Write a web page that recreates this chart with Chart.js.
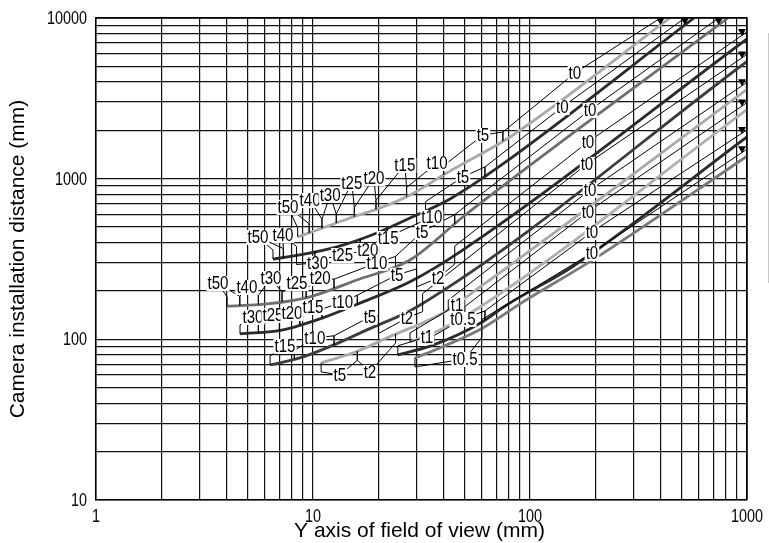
<!DOCTYPE html>
<html>
<head>
<meta charset="utf-8">
<script src="https://cdn.jsdelivr.net/npm/chart.js@4.4.1/dist/chart.umd.min.js"></script>
<style>
html,body{margin:0;padding:0;background:#fff;}
</style>
</head>
<body>
<canvas id="chartContainer" width="769" height="543"></canvas>
<script>
var xTickLabels = ['1', '10', '100', '1000'];
var yTickLabels = ['10', '100', '1000', '10000'];
var xTitle = 'Y axis of field of view (mm)';
var yTitle = 'Camera installation distance (mm)';

// one curve per lens: field of view (mm) and installation distance (mm)
var fov1 = [8.5, 11.4, 14.8, 21, 28, 42.8, 80.9, 441];
var dist1 = [434, 500, 569, 667, 792, 1117, 1817, 10000];
var fov2 = [6.54, 8.71, 12.9, 19.7, 28, 42.8, 72.8, 570];
var dist2 = [316, 335, 376, 459, 569, 748, 1200, 10000];
var fov3 = [4.02, 6.14, 9.69, 15.9, 28, 50, 817];
var dist3 = [161, 166, 184, 234, 312, 590, 10000];
var fov4 = [4.61, 7.27, 11.1, 17.0, 28, 47.6, 1000];
var dist4 = [108, 114.5, 136, 171, 228, 350, 7413];
var fov5 = [6.34, 8.71, 12.4, 17.7, 30.1, 1000];
var dist5 = [69.3, 76.6, 92, 114.5, 159, 5370];
var fov6 = [10.9, 15.9, 22.6, 39.7, 58.9, 1000];
var dist6 = [71.3, 84, 104, 146, 212, 3600];
var fov7 = [28, 38.4, 58.9, 1000];
var dist7 = [96.4, 114.5, 159, 2692];
var fov8 = [24.6, 35.7, 58.9, 78.3, 158, 1000];
var dist8 = [80, 92, 126, 164, 285, 1820];
var fov9 = [29.5, 38.4, 60.7, 92.9, 204, 1000];
var dist9 = [76.6, 88.4, 117.8, 171, 325, 1380];

// extension tube marks: [label, from fov, to fov, label fov, label distance]
var tubes1 = [['t50', 8.5, 9.6, 7.67, 667], ['t40', 9.6, 11, 9.69, 737], ['t30', 11, 12.8, 12.0, 792],
  ['t25', 12.8, 15.5, 15.1, 940], ['t20', 15.5, 19.5, 19.1, 1010], ['t15', 19.5, 27, 26.5, 1217],
  ['t10', 27, 40, 37.3, 1253], ['t5', 40, 75, 60.7, 1871], ['t0', 75, 441, 161, 4545]];
var tubes2 = [['t50', 6.54, 7.3, 5.58, 434], ['t40', 7.3, 8.4, 7.27, 446], ['t30', 8.4, 10.2, 10.5, 299],
  ['t25', 10.2, 12.8, 13.7, 335], ['t20', 12.8, 16.5, 17.9, 360], ['t15', 16.5, 22, 22.2, 427],
  ['t10', 22, 33, 35.3, 578], ['t5', 33, 62, 49.1, 1026], ['t0', 62, 570, 141, 2793]];
var tubes3 = [['t50', 4.02, 4.6, 3.65, 224], ['t40', 4.6, 5.6, 4.96, 212], ['t30', 5.6, 7.2, 6.4, 241],
  ['t25', 7.2, 9.3, 8.44, 224], ['t20', 9.3, 12.5, 10.8, 241], ['t10', 12.5, 24, 19.7, 299],
  ['t5', 24, 45, 31.8, 466], ['t0', 45, 817, 189, 2676]];
var tubes4 = [['t30', 4.61, 5.6, 5.29, 138], ['t25', 5.6, 7, 6.54, 142], ['t20', 7, 8.7, 8.0, 146],
  ['t15', 8.7, 11, 10, 159], ['t10', 11, 16, 13.7, 171], ['t5', 16, 30, 24.4, 252],
  ['t2', 30, 45, 37.7, 241], ['t0', 45, 1000, 185, 1691]];
var tubes5 = [['t15', 6.34, 8.2, 7.43, 91], ['t10', 8.2, 12.5, 10.2, 102], ['t5', 12.5, 20, 18.3, 138],
  ['t2', 20, 32, 27.1, 136], ['t0', 32, 1000, 183, 1234]];
var tubes6 = [['t5', 10.9, 16, 13.3, 60], ['t2', 16, 24, 18.3, 62.7], ['t0', 42, 1000, 189, 851]];
var tubes7 = [['t1', 28, 50, 46.1, 164], ['t0', 50, 1000, 185, 621]];
var tubes8 = [['t1', 24.6, 36, 33.5, 104], ['t0.5', 36, 62, 49.1, 134], ['t0', 62, 1000, 193, 466]];
var tubes9 = [['t0.5', 29.5, 60, 50.2, 75.5], ['t0', 60, 1000, 193, 345]];

var lensColors = ['#a9a9a9', '#2b2b2b', '#6e6e6e', '#2b2b2b', '#3c3c3c', '#a9a9a9', '#b0b0b0', '#2b2b2b', '#7a7a7a'];

var lensFov = [fov1, fov2, fov3, fov4, fov5, fov6, fov7, fov8, fov9];
var lensDist = [dist1, dist2, dist3, dist4, dist5, dist6, dist7, dist8, dist9];
var lensTubes = [tubes1, tubes2, tubes3, tubes4, tubes5, tubes6, tubes7, tubes8, tubes9];

var FONT = '"Liberation Sans", Arial, Helvetica, sans-serif';

function narrowText(ctx, txt, x, y, size, sx, align) {
  ctx.save();
  ctx.font = size + 'px ' + FONT;
  ctx.translate(x, y);
  ctx.scale(sx, 1);
  ctx.textAlign = align;
  ctx.textBaseline = 'middle';
  ctx.fillText(txt, 0, 0);
  ctx.restore();
}

function curveY(pts, x) {
  if (x <= pts[0].x) return pts[0].y;
  for (var i = 0; i < pts.length - 1; i++) {
    if (x <= pts[i + 1].x) {
      var t = (x - pts[i].x) / (pts[i + 1].x - pts[i].x);
      return pts[i].y + t * (pts[i + 1].y - pts[i].y);
    }
  }
  return pts[pts.length - 1].y;
}

var tubePlugin = {
  id: 'tubeMarks',
  afterDatasetsDraw: function(chart) {
    var ctx = chart.ctx, xs = chart.scales.x, ys = chart.scales.y, area = chart.chartArea;
    var labels = [];
    ctx.save();
    ctx.strokeStyle = '#000';
    ctx.fillStyle = '#000';
    ctx.lineWidth = 1;
    lensTubes.forEach(function(tubes, li) {
      var pts = chart.getDatasetMeta(li).data.map(function(p) { return {x: p.x, y: p.y}; });
      tubes.forEach(function(m) {
        var xa = xs.getPixelForValue(m[1]), xb = xs.getPixelForValue(m[2]);
        var ya = curveY(pts, xa), yb = curveY(pts, xb);
        var lx = xs.getPixelForValue(m[3]), ly = ys.getPixelForValue(m[4]);
        var side = ly < curveY(pts, lx) ? -1 : 1;
        ctx.beginPath();
        ctx.moveTo(xa, ya);
        ctx.lineTo(xa, ya + side * 9);
        ctx.lineTo(lx, ly);
        if (m[0] === 't0') {
          var p1 = pts[pts.length - 2], p2 = pts[pts.length - 1];
          var off = side * 7, ex, ey, onTop = p2.y <= area.top + 1;
          if (onTop) {
            var slope = (p2.y - p1.y) / (p2.x - p1.x);
            ex = p2.x + (area.top - off - p2.y) / slope;
            ey = area.top;
          } else {
            ex = area.right;
            ey = p2.y + off;
          }
          ctx.lineTo(ex, ey);
          ctx.stroke();
          ctx.beginPath();
          if (onTop) {
            ctx.moveTo(ex - 4, ey); ctx.lineTo(ex + 4, ey); ctx.lineTo(ex, ey + 7);
          } else {
            ctx.moveTo(ex - 9, ey - 3); ctx.lineTo(ex - 1, ey - 3); ctx.lineTo(ex - 5, ey + 4);
          }
          ctx.closePath();
          ctx.fill();
        } else {
          ctx.lineTo(xb, yb + side * 9);
          ctx.lineTo(xb, yb);
          ctx.stroke();
        }
        labels.push([m[0], lx, ly]);
      });
    });
    labels.forEach(function(l) {
      ctx.font = '18px ' + FONT;
      var w = ctx.measureText(l[0]).width * 0.84;
      ctx.fillStyle = '#fff';
      ctx.fillRect(l[1] - w / 2 - 1, l[2] - 7, w + 2, 15);
      ctx.fillStyle = '#000';
      narrowText(ctx, l[0], l[1], l[2] + 1, 18, 0.84, 'center');
    });
    ctx.restore();
  },
  afterDraw: function(chart) {
    var ctx = chart.ctx, xs = chart.scales.x, ys = chart.scales.y, area = chart.chartArea;
    ctx.save();
    ctx.strokeStyle = '#000';
    ctx.lineWidth = 1.5;
    ctx.beginPath();
    ctx.moveTo(area.left, area.top);
    ctx.lineTo(area.right, area.top);
    ctx.lineTo(area.right, area.bottom);
    ctx.stroke();
    ctx.strokeStyle = '#c8c8c8';
    ctx.lineWidth = 1;
    ctx.beginPath();
    ctx.moveTo(chart.width - 0.5, 33);
    ctx.lineTo(chart.width - 0.5, 283);
    ctx.stroke();
    ctx.fillStyle = '#000';
    yTickLabels.forEach(function(t) {
      narrowText(ctx, t, area.left - 9, ys.getPixelForValue(Number(t)) + 1, 18, 0.8, 'right');
    });
    xTickLabels.forEach(function(t) {
      narrowText(ctx, t, xs.getPixelForValue(Number(t)), area.bottom + 17, 18, 0.8, 'center');
    });
    ctx.font = '21px ' + FONT;
    ctx.textAlign = 'center';
    ctx.textBaseline = 'middle';
    ctx.fillText(xTitle, (area.left + area.right) / 2 - 2, 531);
    ctx.translate(18, (area.top + area.bottom) / 2);
    ctx.rotate(-Math.PI / 2);
    ctx.fillText(yTitle, 0, 0);
    ctx.restore();
  }
};

function keepWholeSteps(scale) {
  scale.ticks = scale.ticks.filter(function(t) {
    var m = t.value / Math.pow(10, Math.floor(Math.log10(t.value) + 1e-9));
    return Math.abs(m - Math.round(m)) < 1e-6;
  });
}

var datasets = lensFov.map(function(f, i) {
  return {
    data: f.map(function(v, j) { return {x: v, y: lensDist[i][j]}; }),
    borderColor: lensColors[i],
    borderWidth: 2.8,
    pointRadius: 0,
    fill: false,
    cubicInterpolationMode: 'monotone'
  };
});

var ctx = document.getElementById('chartContainer').getContext('2d');
var myChart = new Chart(ctx, {
  type: 'line',
  data: {datasets: datasets},
  options: {
    responsive: false,
    animation: false,
    devicePixelRatio: 1,
    layout: {padding: {top: 18, right: 22, left: 0, bottom: 0}},
    plugins: {legend: {display: false}, tooltip: {enabled: false}},
    scales: {
      x: {
        type: 'logarithmic', min: 1, max: 1000,
        grid: {color: '#111', lineWidth: 1.2, drawTicks: false},
        border: {color: '#000', width: 1.5},
        ticks: {display: false, autoSkip: false},
        afterBuildTicks: keepWholeSteps,
        afterFit: function(s) { s.height = 43; }
      },
      y: {
        type: 'logarithmic', min: 10, max: 10000,
        grid: {color: '#111', lineWidth: 1.2, drawTicks: false},
        border: {color: '#000', width: 1.5},
        ticks: {display: false, autoSkip: false},
        afterBuildTicks: keepWholeSteps,
        afterFit: function(s) { s.width = 96; }
      }
    }
  },
  plugins: [tubePlugin]
});
</script>
</body>
</html>
